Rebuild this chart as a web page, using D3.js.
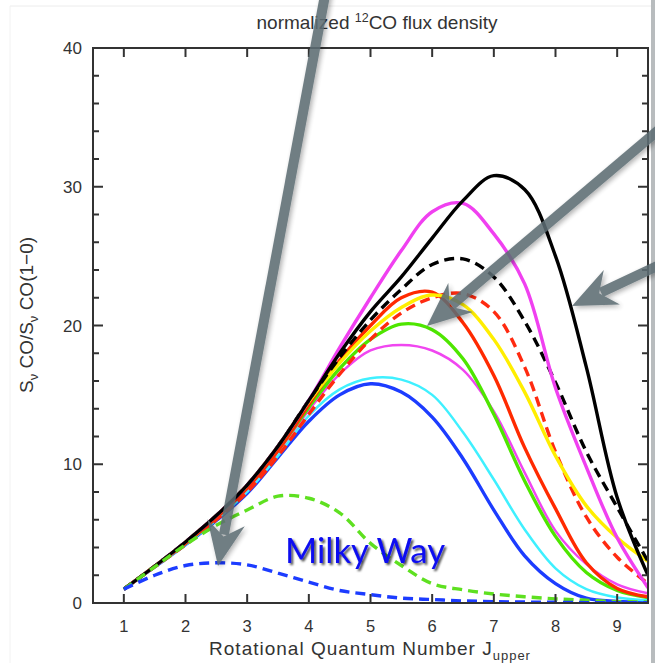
<!DOCTYPE html>
<html>
<head>
<meta charset="utf-8">
<script src="https://cdn.jsdelivr.net/npm/d3@7"></script>
<style>
    body { margin: 0; background: #fff; }
    svg { display: block; }
</style>
</head>
<body>
<div id="app"></div>
<script>
const width = 655;
const height = 663;

// J_upper sample points
const jUpper = [1, 1.5, 2, 2.5, 3, 3.5, 4, 4.5, 5, 5.5, 6, 6.5, 7, 7.5, 8, 8.5, 9, 9.5];

const blackSolid = [1, 2.65, 4.4, 6.3, 8.5, 11.3, 14.6, 18.0, 21.0, 23.5, 26.3, 29.0, 30.8, 29.8, 25.0, 17.0, 7.6, 2.0];
const magentaThick = [1, 2.65, 4.4, 6.3, 8.5, 11.3, 14.6, 18.4, 22.0, 25.4, 28.2, 28.8, 26.6, 23.0, 15.5, 9.8, 4.7, 1.1];
const blackDashed = [1, 2.65, 4.4, 6.3, 8.5, 11.3, 14.6, 17.7, 20.4, 22.6, 24.4, 24.8, 23.5, 20.3, 15.9, 10.9, 6.9, 3.0];
const yellowSolid = [1, 2.65, 4.4, 6.3, 8.5, 11.3, 14.5, 17.3, 19.6, 21.3, 22.2, 21.5, 19.0, 15.2, 10.6, 7.0, 4.7, 3.0];
const redSolid = [1, 2.65, 4.3, 6.15, 8.3, 11.0, 14.3, 17.5, 20.0, 22.0, 22.4, 20.2, 16.4, 11.2, 6.8, 2.9, 1.05, 0.45];
const redDashed = [1, 2.6, 4.2, 6.0, 8.0, 10.6, 13.6, 16.5, 19.0, 20.9, 22.0, 22.3, 21.0, 17.0, 10.9, 6.2, 3.3, 1.4];
const greenSolid = [1, 2.65, 4.3, 6.15, 8.3, 11.0, 14.1, 16.9, 19.0, 20.1, 19.7, 17.6, 13.6, 8.8, 4.8, 2.2, 0.9, 0.4];
const magentaThin = [1, 2.65, 4.3, 6.1, 8.2, 10.9, 13.9, 16.5, 18.2, 18.6, 18.2, 16.8, 13.8, 9.4, 5.2, 2.8, 1.35, 0.7];
const cyanThin = [1, 2.6, 4.2, 6.0, 8.0, 10.6, 13.5, 15.4, 16.2, 16.1, 15.0, 12.3, 8.9, 5.3, 2.5, 1.0, 0.4, 0.2];
const blueSolid = [1, 2.6, 4.2, 5.95, 7.9, 10.5, 13.1, 15.0, 15.8, 15.2, 13.4, 10.4, 6.7, 3.4, 1.4, 0.35, 0.12, 0.05];
const greenDashed = [1, 2.6, 4.2, 5.6, 6.7, 7.7, 7.55, 6.5, 4.3, 2.7, 1.4, 0.95, 0.65, 0.45, 0.3, 0.2, 0.1, 0.08];
const blueDashed = [1, 2.0, 2.7, 2.9, 2.75, 2.15, 1.5, 0.9, 0.6, 0.35, 0.25, 0.15, 0.1, 0.07, 0.05, 0.03, 0.02, 0.02];

const xTicks = [1, 2, 3, 4, 5, 6, 7, 8, 9];
const yTicks = [0, 10, 20, 30, 40];
const yMinorTicks = d3.range(0, 41, 2);

// drawing order, bottom first
const series = [
    {values: blueSolid, color: "#1c3cff", w: 3.4, dash: null},
    {values: cyanThin, color: "#3ff0ff", w: 2.5, dash: null},
    {values: magentaThin, color: "#f046f0", w: 2.5, dash: null},
    {values: greenSolid, color: "#4ee600", w: 3.4, dash: null},
    {values: redSolid, color: "#ff2a00", w: 3.4, dash: null},
    {values: redDashed, color: "#ff2a10", w: 3.4, dash: "10,6"},
    {values: yellowSolid, color: "#ffee00", w: 3.4, dash: null},
    {values: blackDashed, color: "#000000", w: 3.4, dash: "10,6"},
    {values: magentaThick, color: "#f040f0", w: 3.4, dash: null},
    {values: blackSolid, color: "#000000", w: 3.4, dash: null},
    {values: greenDashed, color: "#5ee020", w: 3.4, dash: "10,6"},
    {values: blueDashed, color: "#1c3cff", w: 3.4, dash: "10,6"}
];

const plotL = 93;
const plotR = 648;
const plotT = 48;
const plotB = 603;

const x = d3.scaleLinear().domain([0.5, 9.5]).range([plotL, plotR]);
const y = d3.scaleLinear().domain([0, 40]).range([plotB, plotT]);

const svg = d3.select("#app")
    .append("svg")
    .attr("width", width)
    .attr("height", height)
    .style("font-family", "'Liberation Sans', Arial, sans-serif");

const defs = svg.append("defs");
defs.append("clipPath")
    .attr("id", "plotClip")
    .append("rect")
    .attr("x", plotL)
    .attr("y", plotT)
    .attr("width", plotR - plotL)
    .attr("height", plotB - plotT);

const shadow = defs.append("filter")
    .attr("id", "shadow")
    .attr("x", "-20%").attr("y", "-20%")
    .attr("width", "140%").attr("height", "140%");
shadow.append("feDropShadow")
    .attr("dx", 2).attr("dy", 2)
    .attr("stdDeviation", 2.5)
    .attr("flood-color", "#000")
    .attr("flood-opacity", 0.35);

const textShadow = defs.append("filter").attr("id", "textShadow");
textShadow.append("feDropShadow")
    .attr("dx", 2).attr("dy", 2)
    .attr("stdDeviation", 1.2)
    .attr("flood-color", "#000")
    .attr("flood-opacity", 0.7);

//SLIDE BORDER
svg.append("line")
    .attr("x1", 10).attr("x2", width)
    .attr("y1", 6).attr("y2", 6)
    .style("stroke", "#ececec");
svg.append("line")
    .attr("x1", 10).attr("x2", 10)
    .attr("y1", 6).attr("y2", height)
    .style("stroke", "#f2f2f2");
svg.append("rect")
    .attr("x", 651).attr("y", 0)
    .attr("width", 4).attr("height", height)
    .style("fill", "#b8bcbe");

//CURVES
const line = d3.line()
    .x(function (d) { return x(d[0]); })
    .y(function (d) { return y(d[1]); })
    .curve(d3.curveCatmullRom.alpha(0.5));

svg.append("g")
    .attr("clip-path", "url(#plotClip)")
    .selectAll("path")
    .data(series)
    .enter()
    .append("path")
    .attr("d", function (s) {
        return line(jUpper.map(function (j, i) { return [j, s.values[i]]; }));
    })
    .style("fill", "none")
    .style("stroke", function (s) { return s.color; })
    .style("stroke-width", function (s) { return s.w; })
    .style("stroke-dasharray", function (s) { return s.dash; });

//FRAME AND TICKS
const frame = svg.append("g").style("stroke", "#333").style("stroke-width", 2);
frame.append("rect")
    .attr("x", plotL).attr("y", plotT)
    .attr("width", plotR - plotL).attr("height", plotB - plotT)
    .style("fill", "none");

frame.selectAll(".xtb").data(xTicks).enter().append("line")
    .attr("x1", function (d) { return x(d); })
    .attr("x2", function (d) { return x(d); })
    .attr("y1", plotB).attr("y2", plotB - 9);
frame.selectAll(".xtt").data(xTicks).enter().append("line")
    .attr("x1", function (d) { return x(d); })
    .attr("x2", function (d) { return x(d); })
    .attr("y1", plotT).attr("y2", plotT + 9);

frame.selectAll(".ytl").data(yMinorTicks).enter().append("line")
    .attr("x1", plotL)
    .attr("x2", function (d) { return plotL + (d % 10 === 0 ? 10 : 6); })
    .attr("y1", function (d) { return y(d); })
    .attr("y2", function (d) { return y(d); });
frame.selectAll(".ytr").data(yMinorTicks).enter().append("line")
    .attr("x1", plotR)
    .attr("x2", function (d) { return plotR - (d % 10 === 0 ? 10 : 6); })
    .attr("y1", function (d) { return y(d); })
    .attr("y2", function (d) { return y(d); });

//TICK LABELS
svg.selectAll(".xl").data(xTicks).enter().append("text")
    .attr("x", function (d) { return x(d); })
    .attr("y", 632)
    .attr("text-anchor", "middle")
    .style("font-size", "16.5px")
    .style("fill", "#333")
    .text(function (d) { return d; });

svg.selectAll(".yl").data(yTicks).enter().append("text")
    .attr("x", 82)
    .attr("y", function (d) { return y(d) + 6; })
    .attr("text-anchor", "end")
    .style("font-size", "17px")
    .style("fill", "#333")
    .text(function (d) { return d; });

//TITLES
const title = svg.append("text")
    .attr("x", 377).attr("y", 29)
    .attr("text-anchor", "middle")
    .style("font-size", "19px")
    .style("fill", "#333");
title.append("tspan").text("normalized ");
title.append("tspan").attr("dy", -7).style("font-size", "12.5px").text("12");
title.append("tspan").attr("dy", 7).text("CO flux density");

const xTitle = svg.append("text")
    .attr("x", 370).attr("y", 655)
    .attr("text-anchor", "middle")
    .style("font-size", "19px")
    .style("letter-spacing", "1px")
    .style("fill", "#333");
xTitle.append("tspan").text("Rotational Quantum Number J");
xTitle.append("tspan").attr("dy", 5).style("font-size", "13px").text("upper");

const yTitle = svg.append("text")
    .attr("transform", "translate(33,315) rotate(-90)")
    .attr("text-anchor", "middle")
    .style("font-size", "19px")
    .style("fill", "#333");
yTitle.append("tspan").text("S");
yTitle.append("tspan").attr("dy", 5).style("font-size", "13px").text("ν");
yTitle.append("tspan").attr("dy", -5).text(" CO/S");
yTitle.append("tspan").attr("dy", 5).style("font-size", "13px").text("ν");
yTitle.append("tspan").attr("dy", -5).text(" CO(1\u22120)");

//MILKY WAY LABEL
svg.append("text")
    .attr("x", 285).attr("y", 563)
    .attr("textLength", 160)
    .attr("lengthAdjust", "spacingAndGlyphs")
    .attr("filter", "url(#textShadow)")
    .style("font-family", "Lato, 'Open Sans', sans-serif")
    .style("font-size", "35px")
    .style("fill", "#0a0af0")
    .text("Milky Way");

//ARROWS
const arrows = [
    {from: [326, -10], to: [218, 566]},
    {from: [668, 122], to: [427, 326]},
    {from: [668, 261], to: [572, 306]}
];

function arrowHead(a) {
    const dx = a.to[0] - a.from[0];
    const dy = a.to[1] - a.from[1];
    const len = Math.sqrt(dx * dx + dy * dy);
    const ux = dx / len, uy = dy / len;
    const px = -uy, py = ux;
    const headL = 44, headW = 19, notch = 30;
    const tip = a.to;
    const back = [tip[0] - ux * headL, tip[1] - uy * headL];
    const mid = [tip[0] - ux * notch, tip[1] - uy * notch];
    return "M" + tip + "L" + [back[0] + px * headW, back[1] + py * headW] +
        "L" + mid + "L" + [back[0] - px * headW, back[1] - py * headW] + "Z";
}

const arrowG = svg.append("g")
    .attr("filter", "url(#shadow)")
    .style("opacity", 0.88);
arrows.forEach(function (a) {
    const dx = a.to[0] - a.from[0];
    const dy = a.to[1] - a.from[1];
    const len = Math.sqrt(dx * dx + dy * dy);
    arrowG.append("line")
        .attr("x1", a.from[0]).attr("y1", a.from[1])
        .attr("x2", a.to[0] - dx / len * 32)
        .attr("y2", a.to[1] - dy / len * 32)
        .style("stroke", "#5d6d73")
        .style("stroke-width", 10);
    arrowG.append("path")
        .attr("d", arrowHead(a))
        .style("fill", "#5d6d73");
});
</script>
</body>
</html>
